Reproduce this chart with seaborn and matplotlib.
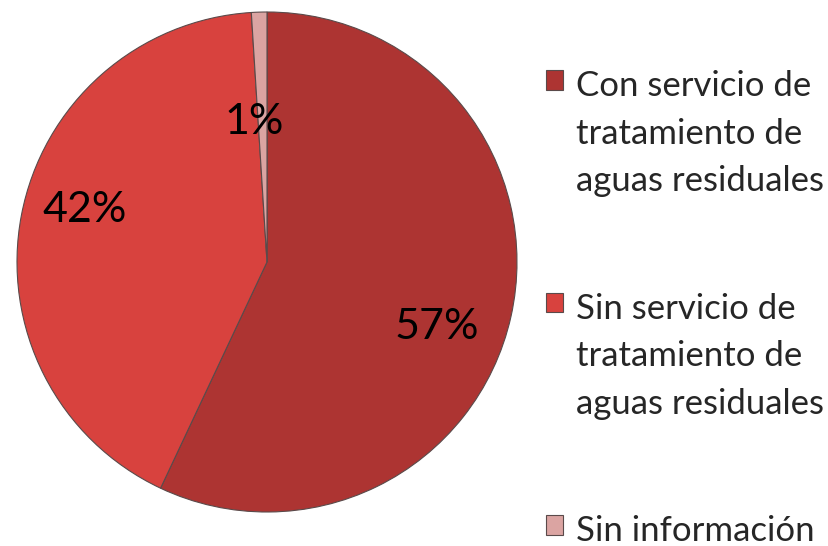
import matplotlib
matplotlib.use('Agg')
import matplotlib.pyplot as plt
import seaborn as sns

categorias = ['Con servicio de\ntratamiento de\naguas residuales',
              'Sin servicio de\ntratamiento de\naguas residuales',
              'Sin información']
porcentajes = [57, 42, 1]
colores = ['#ad3432', '#d8423e', '#dba4a2']

sns.set_style('white')
plt.rcParams['font.family'] = ['Lato', 'DejaVu Sans']

fig = plt.figure(figsize=(8.29, 5.46), dpi=100)
ax = fig.add_axes([17 / 829, 34 / 546, 500 / 829, 500 / 546])

wedges, texts, autotexts = ax.pie(
    porcentajes, colors=colores, startangle=90, counterclock=False,
    autopct='%1.0f%%', pctdistance=0.73,
    wedgeprops=dict(edgecolor='#5a4a4a', linewidth=0.8),
    textprops=dict(fontsize=31, color='black'))
ax.set_xlim(-1, 1)
ax.set_ylim(-1, 1)

# posiciones de las etiquetas como en la imagen
etiqueta_pos = [(0.68, -0.26), (-0.73, 0.21), (-0.05, 0.56)]
for t, p in zip(autotexts, etiqueta_pos):
    t.set_position(p)

leg = fig.legend(wedges, categorias, loc='upper left',
                 bbox_to_anchor=(546 / 829, 1 - 70 / 546),
                 frameon=False, fontsize=25, labelspacing=2.75, handlelength=0.5,
                 handleheight=0.5, handletextpad=0.35, borderaxespad=0, borderpad=0)
for t in leg.get_texts():
    t.set_linespacing(1.6)
# marcador alineado con la primera linea
for col in leg._legend_handle_box.get_children():
    for fila in col.get_children():
        fila.align = 'top'

fig.savefig('out.png', dpi=100)
